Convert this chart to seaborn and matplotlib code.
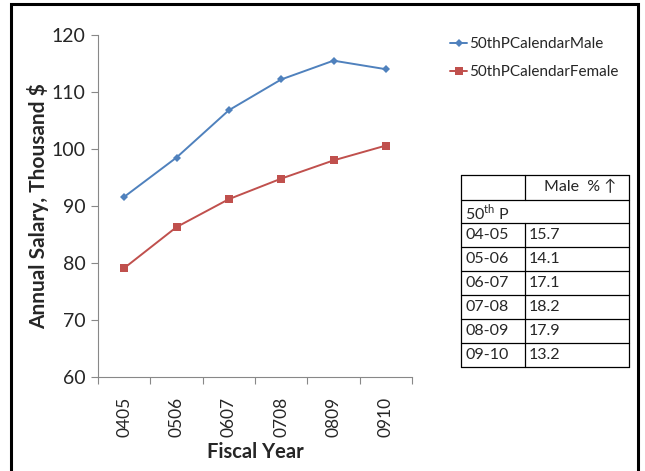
import matplotlib
matplotlib.use("Agg")
import matplotlib.pyplot as plt
import seaborn as sns
import pandas as pd
from matplotlib.patches import Rectangle
from matplotlib.lines import Line2D

years = ["0405", "0506", "0607", "0708", "0809", "0910"]
male = [91.6, 98.5, 106.8, 112.2, 115.5, 114.0]
female = [79.1, 86.3, 91.2, 94.8, 98.0, 100.6]
series_names = ["50thPCalendarMale", "50thPCalendarFemale"]
table_years = ["04-05", "05-06", "06-07", "07-08", "08-09", "09-10"]
table_pct = ["15.7", "14.1", "17.1", "18.2", "17.9", "13.2"]

sns.set_theme(style="white")
plt.rcParams['font.family'] = ['Lato', 'DejaVu Sans']

df = pd.DataFrame({
    "year": years * 2,
    "value": male + female,
    "series": [series_names[0]] * len(years) + [series_names[1]] * len(years),
})

colors = {series_names[0]: "#4F81BD", series_names[1]: "#C0504D"}
markers = {series_names[0]: "D", series_names[1]: "s"}

fig = plt.figure(figsize=(6.45, 4.71), dpi=100)
ax = fig.add_axes([98/645, 1-377/471, (412-98)/645, (377-35)/471])

sns.lineplot(data=df, x="year", y="value", hue="series", style="series",
             palette=colors, markers=markers, dashes=False, ax=ax,
             linewidth=1.4, markersize=4.5, markeredgewidth=0, sort=False)

for line, s in zip(ax.lines, series_names):
    if s == series_names[1]:
        line.set_markersize(6)

ax.set_xlim(-0.5, len(years) - 0.5)
ax.set_ylim(60, 120)
ax.set_yticks(range(60, 121, 10))
ax.set_xticks(range(len(years)))
ax.set_xticklabels(years, rotation=90, fontsize=12.5)
ax.set_xticks([i - 0.5 for i in range(len(years) + 1)], minor=True)
ax.tick_params(axis="x", which="major", length=0, pad=14)
ax.tick_params(axis="x", which="minor", length=5, width=0.8, color="#888888", direction="out", bottom=True)
ax.tick_params(axis="y", which="major", length=5, width=0.8, color="#888888", direction="out", left=True, labelsize=14, pad=4)

ax.set_xlabel("Fiscal Year", fontsize=14.5, fontweight="bold", labelpad=4)
ax.set_ylabel("Annual Salary, Thousand $", fontsize=15, fontweight="bold", labelpad=2)
for side in ["top", "right"]:
    ax.spines[side].set_visible(False)
for side in ["left", "bottom"]:
    ax.spines[side].set_color("#888888")
    ax.spines[side].set_linewidth(0.8)

if ax.get_legend() is not None:
    ax.get_legend().remove()

handles = [Line2D([], [], color=colors[s], marker=markers[s], markersize=4.5 if i == 0 else 6,
                  markeredgewidth=0, linewidth=1.4) for i, s in enumerate(series_names)]
fig.legend(handles, series_names, loc="upper left", bbox_to_anchor=(444/645, 1-31/471),
           frameon=False, fontsize=11, handlelength=1.1, handletextpad=0.15,
           labelspacing=0.9, borderaxespad=0)

# table
tax = fig.add_axes([0, 0, 1, 1], facecolor="none")
tax.set_xlim(0, 645)
tax.set_ylim(471, 0)
tax.axis("off")
L, M, R = 461, 525, 629
rows = [175, 200, 223, 247, 271, 295, 319, 343, 367]
lw = 0.9
for y in rows:
    tax.plot([L, R], [y, y], color="black", lw=lw)
tax.plot([L, L], [rows[0], rows[-1]], color="black", lw=lw)
tax.plot([R, R], [rows[0], rows[-1]], color="black", lw=lw)
tax.plot([M, M], [rows[0], rows[1]], color="black", lw=lw)
tax.plot([M, M], [rows[2], rows[-1]], color="black", lw=lw)
fs = 11.5
tax.text((M + R) / 2 + 3, (rows[0] + rows[1]) / 2, "Male  % ↑", ha="center", va="center", fontsize=fs)
tax.text(L + 4, (rows[1] + rows[2]) / 2 + 1, r"50$^{\mathregular{th}}$ P", ha="left", va="center", fontsize=fs)
for i, (yr, p) in enumerate(zip(table_years, table_pct)):
    yc = (rows[i + 2] + rows[i + 3]) / 2
    tax.text(L + 4, yc, yr, ha="left", va="center", fontsize=fs)
    tax.text(M + 4, yc, p, ha="left", va="center", fontsize=fs)

fig.add_artist(Rectangle((11/645, -0.05), (638-11)/645, 1.05 - 4/471,
                         transform=fig.transFigure, fill=False, edgecolor="black", lw=2.2))

fig.savefig("out.png", dpi=100)
